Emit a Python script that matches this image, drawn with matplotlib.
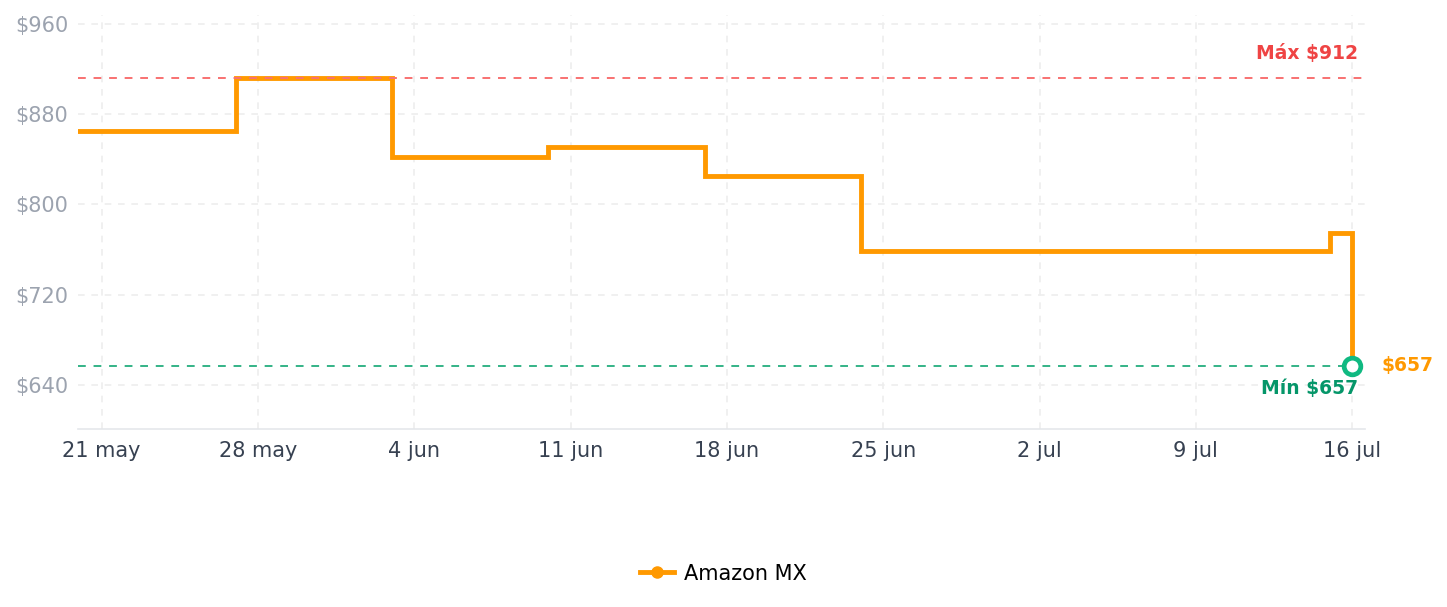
import pandas as pd
import matplotlib.pyplot as plt
from matplotlib.lines import Line2D
from matplotlib.ticker import FuncFormatter

# datos del historial de precios
fechas = pd.to_datetime(['2024-05-20', '2024-05-27', '2024-06-03', '2024-06-10',
                         '2024-06-17', '2024-06-24', '2024-07-15', '2024-07-16'])
precios = [865, 912, 842, 851, 825, 759, 775, 657]
precio_max = 912
precio_min = 657
yticks = [640, 720, 800, 880, 960]
meses = ['ene', 'feb', 'mar', 'abr', 'may', 'jun', 'jul', 'ago', 'sep', 'oct', 'nov', 'dic']

naranja = '#FF9900'
rojo = '#EF4444'
verde = '#10B981'

fig = plt.figure(figsize=(14.47, 6.07), dpi=100)
ax = fig.add_axes([0.0539, 0.2933, 0.8894, 0.682])

ax.step(fechas, precios, where='post', color=naranja, lw=3.5, solid_joinstyle='miter')

ax.axhline(precio_max, color='#F87171', ls=(0, (4, 4)), lw=1.4)
ax.axhline(precio_min, color='#34B387', ls=(0, (4, 4)), lw=1.4)

ax.plot(fechas[-1], precios[-1], 'o', ms=12, mfc='white', mec=verde, mew=3.4, zorder=5)

ax.set_ylim(601, 968)
ax.set_xlim(pd.Timestamp('2024-05-19 22:30'), pd.Timestamp('2024-07-16 13:40'))

ax.set_yticks(yticks)
ax.yaxis.set_major_formatter(FuncFormatter(lambda v, p: f'${v:.0f}'))
ticks = pd.date_range('2024-05-21', '2024-07-16', freq='7D')
ax.set_xticks(ticks)
ax.set_xticklabels([f'{d.day} {meses[d.month - 1]}' for d in ticks])

ax.tick_params(axis='y', colors='#9CA3AF', labelsize=15, length=0, pad=7)
ax.tick_params(axis='x', colors='#374151', labelsize=15, length=0, pad=9)

ax.grid(True, color='#EEEEEE', ls=(0, (4, 4)), lw=1.2)
ax.set_axisbelow(True)
for s in ['top', 'right', 'left']:
    ax.spines[s].set_visible(False)
ax.spines['bottom'].set_color('#E5E7EB')
ax.spines['bottom'].set_linewidth(1.2)

ax.text(fechas[-1] + pd.Timedelta(hours=6), 934.3, f'Máx ${precio_max}',
        color=rojo, fontsize=13.5, fontweight='bold', ha='right', va='center')
ax.text(fechas[-1] + pd.Timedelta(hours=6), 637.3, f'Mín ${precio_min}',
        color='#059669', fontsize=13.5, fontweight='bold', ha='right', va='center')
ax.annotate(f'${precios[-1]}', (fechas[-1], precios[-1]), xytext=(21, 0),
            textcoords='offset points', color=naranja, fontsize=13.5,
            fontweight='bold', va='center', ha='left', annotation_clip=False)

handle = Line2D([], [], color=naranja, lw=3.5, marker='o', ms=8)
fig.legend([handle], ['Amazon MX'], loc='center', bbox_to_anchor=(0.5, 0.055),
           frameon=False, fontsize=15, handlelength=1.6, handletextpad=0.5)

fig.savefig('out.png', dpi=100)
